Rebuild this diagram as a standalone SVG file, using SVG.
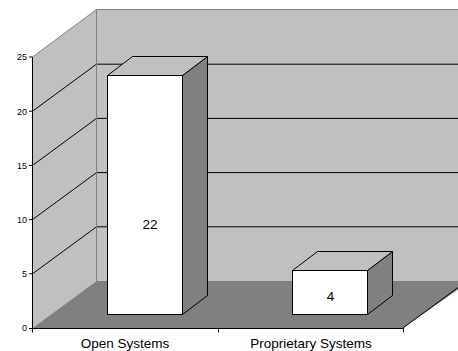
<svg xmlns="http://www.w3.org/2000/svg" width="458" height="351" viewBox="0 0 458 351">
<style>
.wall{fill:#c0c0c0;stroke:none}
.floor{fill:#808080;stroke:none}
.edge{stroke:#808080;stroke-width:1;fill:none}
.grid{stroke:#000;stroke-width:1;fill:none}
.ax{stroke:#000;stroke-width:1;fill:none}
.front{fill:#fff;stroke:#000;stroke-width:1}
.top{fill:#c0c0c0;stroke:#000;stroke-width:1;stroke-linejoin:round}
.side{fill:#808080;stroke:#000;stroke-width:1;stroke-linejoin:round}
.yl{font-family:"Liberation Sans",Arial,sans-serif;font-size:9px;fill:#000;text-anchor:end}
.xl{font-family:"Liberation Sans",Arial,sans-serif;font-size:13.5px;fill:#000;text-anchor:middle}
.vl{font-family:"Liberation Sans",Arial,sans-serif;font-size:13.5px;fill:#000;text-anchor:middle}
</style>
<rect width="458" height="351" fill="#fff"/>
<g id="walls">
<polygon class="wall" points="96.5,9.5 470,9.5 470,281 96.5,281"/>
<polygon class="wall" points="32.5,57 96.5,9.5 96.5,281 32.5,328"/>
<polygon class="floor" points="32.5,328 96.5,281 470,281 403,328"/>
</g>
<g id="gridlines">
<path class="grid" d="M32.5,273.8 L96.5,226.8 L458,226.8"/>
<path class="grid" d="M32.5,219.6 L96.5,172.6 L458,172.6"/>
<path class="grid" d="M32.5,165.4 L96.5,118.4 L458,118.4"/>
<path class="grid" d="M32.5,111.2 L96.5,64.2 L458,64.2"/>
<path class="edge" d="M32.5,57 L96.5,9.5 L458,9.5 M96.5,9.5 L96.5,281"/>
<path class="grid" d="M403,328 L467,281"/>
</g>
<g id="axes">
<path class="ax" d="M32.5,57 L32.5,328.5 M32.5,328.5 L403.5,328.5"/>
<path class="ax" d="M29,57 H32.5 M29,111.2 H32.5 M29,165.4 H32.5 M29,219.6 H32.5 M29,273.8 H32.5 M29,328.5 H32.5"/>
<path class="ax" d="M32.5,328.5 V332.5 M218.5,328.5 V332.5 M403.5,328.5 V332.5"/>
<text class="yl" x="27" y="60.3">25</text>
<text class="yl" x="27" y="114.5">20</text>
<text class="yl" x="27" y="168.7">15</text>
<text class="yl" x="27" y="222.9">10</text>
<text class="yl" x="27" y="277.1">5</text>
<text class="yl" x="27" y="331.3">0</text>
<text class="xl" x="125" y="347.5">Open Systems</text>
<text class="xl" x="311" y="347.5">Proprietary Systems</text>
</g>
<g id="bar-open-systems">
<polygon class="side" points="182.5,75.5 207.5,56.5 207.5,295.5 182.5,314.5"/>
<polygon class="top" points="107.5,75.5 132.5,56.5 207.5,56.5 182.5,75.5"/>
<rect class="front" x="107.5" y="75.5" width="75" height="239"/>
<text class="vl" x="150" y="229">22</text>
</g>
<g id="bar-proprietary-systems">
<polygon class="side" points="367.5,270.5 392.5,251.5 392.5,295.5 367.5,314.5"/>
<polygon class="top" points="292.5,270.5 317.5,251.5 392.5,251.5 367.5,270.5"/>
<rect class="front" x="292.5" y="270.5" width="75" height="44"/>
<text class="vl" x="330.5" y="300.5">4</text>
</g>
</svg>
